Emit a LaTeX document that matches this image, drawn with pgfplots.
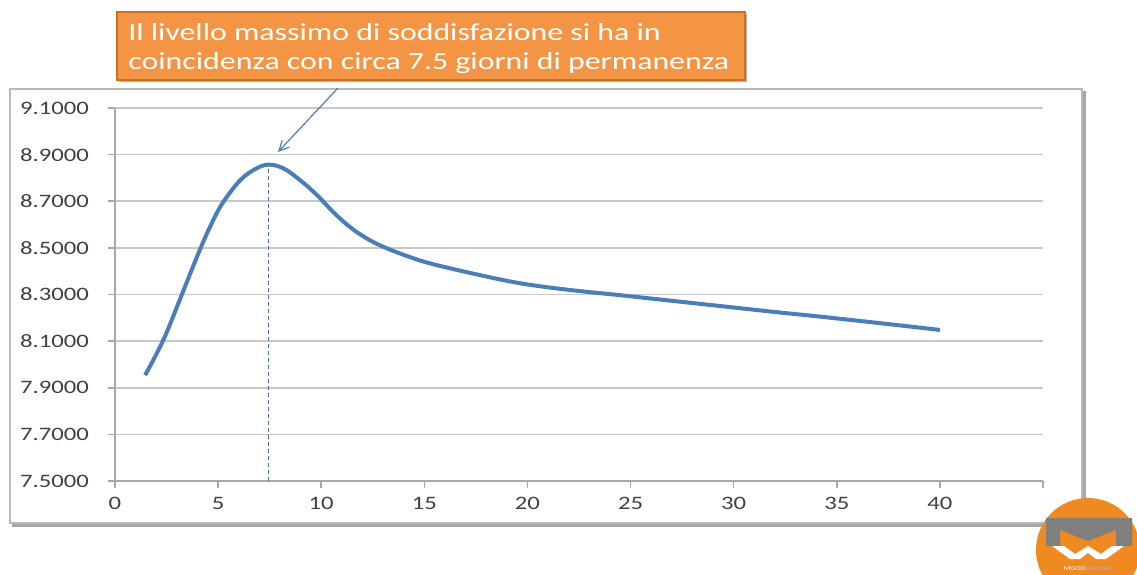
\documentclass[border=0pt]{standalone}
\usepackage{pgfplots}
\pgfplotsset{compat=1.18}
\usepackage{fontspec}
\setmainfont[FakeStretch=1.3]{Carlito}
\usetikzlibrary{arrows.meta}
\definecolor{curveblue}{HTML}{4A7EBB}
\definecolor{dashblue}{HTML}{4A6CB5}
\definecolor{gridgray}{HTML}{C8C8C8}
\definecolor{axgray}{HTML}{A8A8A8}
\definecolor{labgray}{HTML}{404040}
\definecolor{boxorange}{HTML}{F39544}
\definecolor{boxedge}{HTML}{D0701E}
\definecolor{logoorange}{HTML}{EF8A22}
\definecolor{logogray}{HTML}{7F7F7F}
\begin{document}
\begin{tikzpicture}
\useasboundingbox (0,0) rectangle (568.5pt,287pt);
% outer chart frame with shadow
\draw[gray!70, line width=1.6pt] (6pt,24.5pt) -- (542pt,24.5pt) -- (542pt,241.5pt);
\draw[axgray!80, line width=0.7pt] (5pt,25.5pt) rectangle (541pt,242.5pt);
\begin{axis}[
  at={(57.5pt,46.5pt)}, anchor=south west,
  width=464pt, height=186.5pt, scale only axis,
  xmin=0, xmax=45, ymin=7.5, ymax=9.1,
  axis x line=bottom, axis y line=left,
  axis line style={-, axgray, line width=0.8pt},
  xtick={0,5,...,45}, xticklabels={0,5,10,15,20,25,30,35,40,},
  ytick={7.5,7.7,...,9.15},
  ymajorgrids, grid style={gridgray, line width=0.8pt},
  tick align=outside, major tick length=3.5pt,
  tick style={axgray, line width=0.8pt},
  /pgf/number format/assume math mode=true,
  yticklabel={\pgfmathprintnumber[fixed,fixed zerofill,precision=4]{\tick}},
  ticklabel style={font=\fontsize{9.5}{11}\selectfont, text=labgray},
  yticklabel style={xshift=-6pt},
  xticklabel style={yshift=-1pt},
  clip=false,
]
\addplot[dashblue, dash pattern=on 2pt off 1.5pt, line width=0.6pt] coordinates {(7.44,7.5) (7.44,8.857)};
\addplot[curveblue, line width=2pt, smooth, tension=0.6] coordinates {
(1.46,7.954) (2.35,8.106) (3.23,8.297) (4.13,8.495) (4.77,8.62) (5.26,8.698) (6.07,8.79) (6.8,8.838) (7.44,8.857) (8.17,8.841) (8.98,8.79) (9.79,8.727) (10.6,8.652) (11.4,8.589) (12.2,8.541) (13.0,8.505) (14.16,8.465) (15.3,8.433) (17.5,8.387) (19.66,8.348) (22,8.32) (24.5,8.297) (27,8.273) (29.4,8.25) (32,8.225) (34.2,8.205) (37,8.178) (40,8.148)};
\end{axis}
% annotation box
\fill[black!30] (59.5pt,246pt) rectangle (373.5pt,280pt);
\draw[boxedge, fill=boxorange, line width=0.8pt] (58.5pt,247pt) rectangle (372.5pt,281pt);
\node[anchor=west, align=left, text=white, inner sep=0pt, font=\fontsize{12.25}{14.5}\selectfont] at (64pt,262.5pt) {Il livello massimo di soddisfazione si ha in\\coincidenza con circa 7.5 giorni di permanenza};
% arrow
\draw[curveblue, line width=0.6pt, -{Straight Barb[length=5pt,width=5pt]}] (169pt,243pt) -- (139pt,211pt);
% logo
\fill[logoorange] (544pt,12pt) circle (26pt);
\fill[logogray] (523pt,28pt) -- (566pt,28pt) -- (566pt,14pt) -- (558pt,14pt) -- (558pt,22pt) -- (544pt,16.5pt) -- (530pt,22pt) -- (530pt,14pt) -- (523pt,14pt) -- cycle;
\fill[white] (526pt,14pt) -- (532pt,14pt) -- (537.5pt,10pt) -- (544pt,14pt) -- (550.5pt,10pt) -- (556pt,14pt) -- (562pt,14pt) -- (553pt,7.5pt) -- (548pt,7.5pt) -- (544pt,10.5pt) -- (540pt,7.5pt) -- (535pt,7.5pt) -- cycle;
\node[font=\fontsize{3}{3}\selectfont, inner sep=0pt] at (544pt,3pt) {\textcolor{white}{MOOD}\textcolor{logogray!60}{Watcher}};
\end{tikzpicture}
\end{document}
